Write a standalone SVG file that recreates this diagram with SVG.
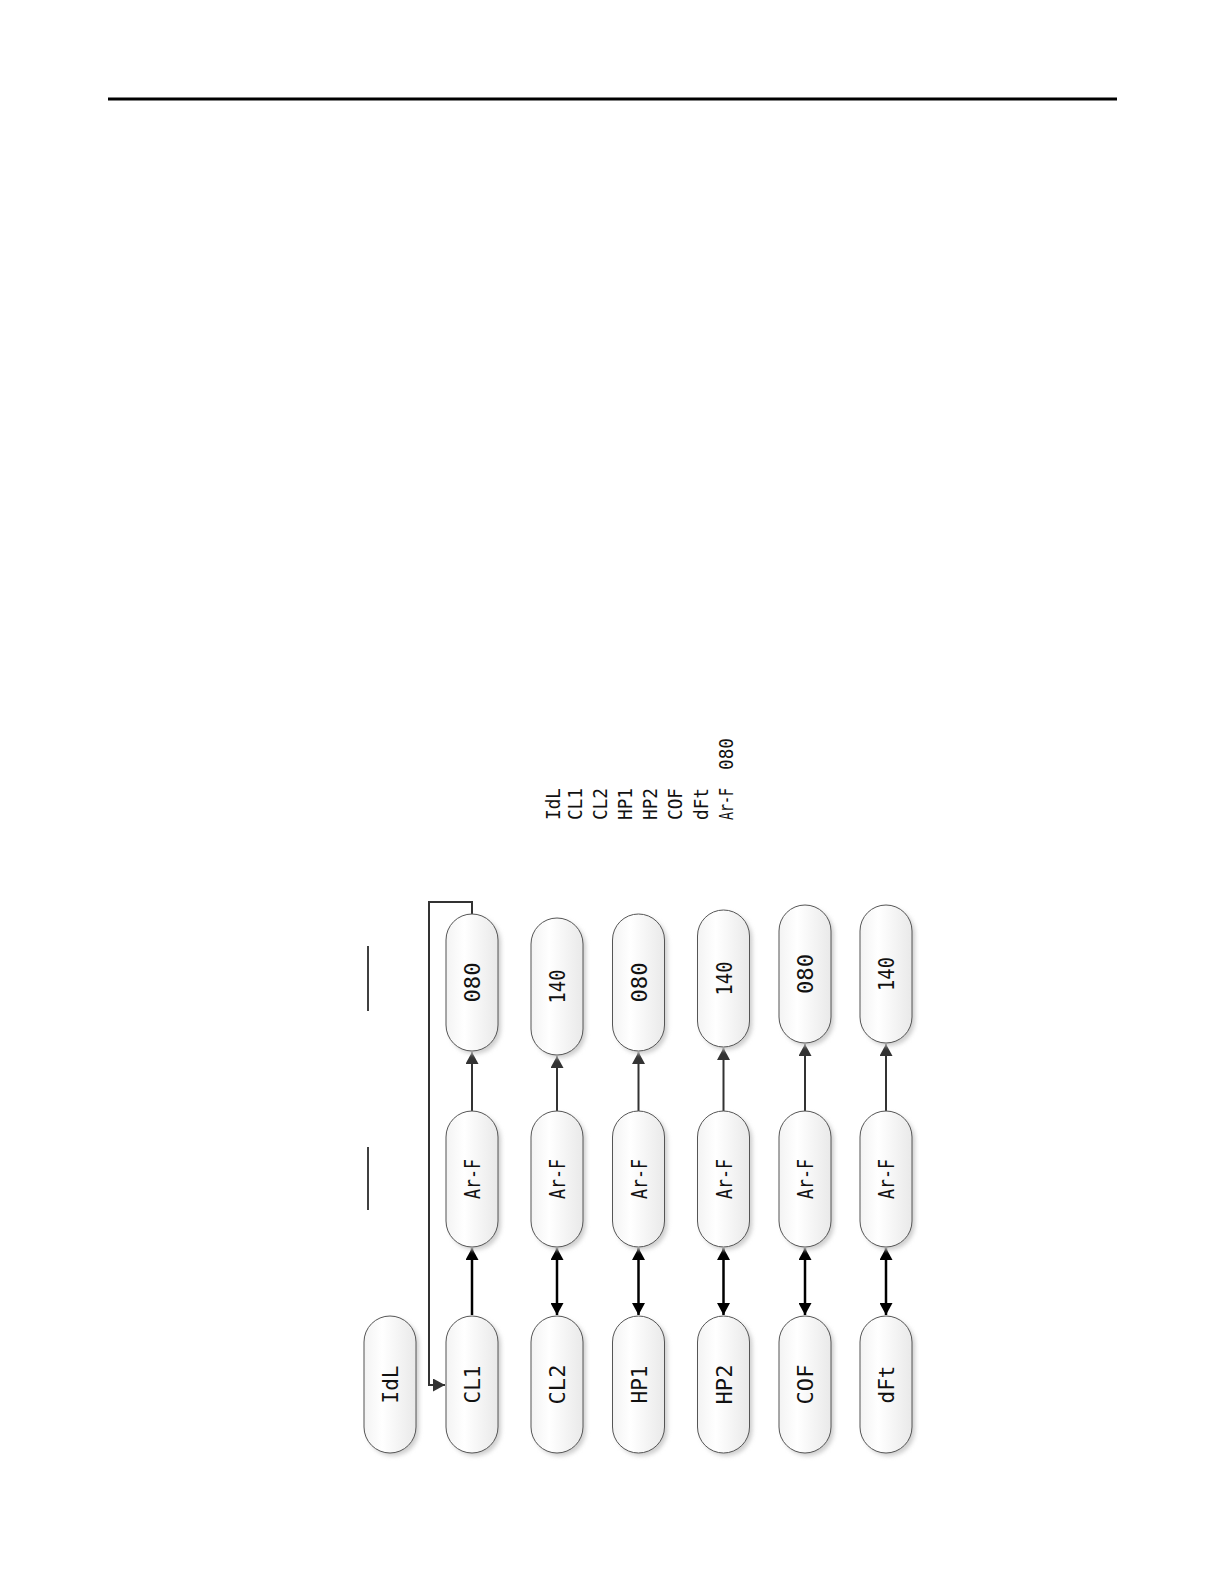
<svg xmlns="http://www.w3.org/2000/svg" width="1224" height="1584" viewBox="0 0 1224 1584">
<defs>
<style>
.node{fill:url(#g);stroke:#555;stroke-width:1}
.sh{fill:#cfcfcf;filter:url(#b)}
.lbl{font-family:"DejaVu Sans Mono","Liberation Mono",monospace;font-size:22px;fill:#111;text-anchor:middle}
.lst{font-family:"DejaVu Sans Mono","Liberation Mono",monospace;font-size:19px;fill:#111}
.c1{stroke:#000;stroke-width:2.5;fill:none}
.c2{stroke:#333;stroke-width:2;fill:none}
</style>
<linearGradient id="g" x1="0" y1="0" x2="1" y2="0">
<stop offset="0" stop-color="#f3f3f3"/>
<stop offset="0.35" stop-color="#ffffff"/>
<stop offset="1" stop-color="#e9e9e9"/>
</linearGradient>
<filter id="b" x="-20%" y="-20%" width="140%" height="140%"><feGaussianBlur stdDeviation="2"/></filter>
<marker id="ah" markerWidth="13" markerHeight="13" refX="12" refY="6.5" orient="auto-start-reverse" markerUnits="userSpaceOnUse">
<path d="M0,0 L12,6.5 L0,13 z" fill="#000"/>
</marker>
<marker id="ah2" markerWidth="13" markerHeight="13" refX="12" refY="6.5" orient="auto-start-reverse" markerUnits="userSpaceOnUse">
<path d="M0,0 L12,6.5 L0,13 z" fill="#333"/>
</marker>
</defs>
<rect width="1224" height="1584" fill="#fff"/>
<line x1="108" y1="99" x2="1117" y2="99" stroke="#000" stroke-width="3"/>
<g id="list">
<text class="lst" transform="translate(560,820) rotate(-90)" textLength="32" lengthAdjust="spacingAndGlyphs">IdL</text>
<text class="lst" transform="translate(582,820) rotate(-90)" textLength="32" lengthAdjust="spacingAndGlyphs">CL1</text>
<text class="lst" transform="translate(607,820) rotate(-90)" textLength="32" lengthAdjust="spacingAndGlyphs">CL2</text>
<text class="lst" transform="translate(632,820) rotate(-90)" textLength="32" lengthAdjust="spacingAndGlyphs">HP1</text>
<text class="lst" transform="translate(657,820) rotate(-90)" textLength="32" lengthAdjust="spacingAndGlyphs">HP2</text>
<text class="lst" transform="translate(682,820) rotate(-90)" textLength="32" lengthAdjust="spacingAndGlyphs">COF</text>
<text class="lst" transform="translate(708,820) rotate(-90)" textLength="32" lengthAdjust="spacingAndGlyphs">dFt</text>
<text class="lst" transform="translate(733,820) rotate(-90)" textLength="32" lengthAdjust="spacingAndGlyphs">Ar-F</text>
<text class="lst" transform="translate(733,770) rotate(-90)" textLength="32" lengthAdjust="spacingAndGlyphs">080</text>
</g>
<g id="marks">
<line x1="368" y1="946" x2="368" y2="1011" stroke="#000" stroke-width="1.5"/>
<line x1="368" y1="1147" x2="368" y2="1210" stroke="#000" stroke-width="1.5"/>
</g>
<g id="connectors">
<polyline class="c2" points="472,914 472,902 429,902 429,1385 445,1385" marker-end="url(#ah2)"/>
<line class="c1" x1="472" y1="1315" x2="472" y2="1248" marker-end="url(#ah)"/>
<line class="c1" x1="557" y1="1248" x2="557" y2="1315" marker-start="url(#ah)" marker-end="url(#ah)"/>
<line class="c1" x1="638.5" y1="1248" x2="638.5" y2="1315" marker-start="url(#ah)" marker-end="url(#ah)"/>
<line class="c1" x1="723.5" y1="1248" x2="723.5" y2="1315" marker-start="url(#ah)" marker-end="url(#ah)"/>
<line class="c1" x1="805" y1="1248" x2="805" y2="1315" marker-start="url(#ah)" marker-end="url(#ah)"/>
<line class="c1" x1="886" y1="1248" x2="886" y2="1315" marker-start="url(#ah)" marker-end="url(#ah)"/>
<line class="c2" x1="472" y1="1111" x2="472" y2="1052" marker-end="url(#ah2)"/>
<line class="c2" x1="557" y1="1111" x2="557" y2="1056" marker-end="url(#ah2)"/>
<line class="c2" x1="638.5" y1="1111" x2="638.5" y2="1052" marker-end="url(#ah2)"/>
<line class="c2" x1="723.5" y1="1111" x2="723.5" y2="1048" marker-end="url(#ah2)"/>
<line class="c2" x1="805" y1="1111" x2="805" y2="1044" marker-end="url(#ah2)"/>
<line class="c2" x1="886" y1="1111" x2="886" y2="1044" marker-end="url(#ah2)"/>
</g>
<g id="n-idl"><rect class="sh" x="367" y="1319" width="52" height="137" rx="26"/><rect class="node" x="364" y="1316" width="52" height="137" rx="26"/><text class="lbl" transform="translate(398,1384.5) rotate(-90)" textLength="38" lengthAdjust="spacingAndGlyphs">IdL</text></g>
<g id="n-cl1"><rect class="sh" x="449" y="1319" width="52" height="137" rx="26"/><rect class="node" x="446" y="1316" width="52" height="137" rx="26"/><text class="lbl" transform="translate(480,1384.5) rotate(-90)" textLength="38" lengthAdjust="spacingAndGlyphs">CL1</text></g>
<g id="n-arf1"><rect class="sh" x="449" y="1114" width="52" height="136" rx="26"/><rect class="node" x="446" y="1111" width="52" height="136" rx="26"/><text class="lbl" transform="translate(480,1179) rotate(-90)" textLength="40" lengthAdjust="spacingAndGlyphs">Ar-F</text></g>
<g id="n-v1"><rect class="sh" x="449" y="917" width="52" height="137" rx="26"/><rect class="node" x="446" y="914" width="52" height="137" rx="26"/><text class="lbl" transform="translate(480,982.5) rotate(-90)" textLength="40" lengthAdjust="spacingAndGlyphs">080</text></g>
<g id="n-cl2"><rect class="sh" x="534" y="1319" width="52" height="137" rx="26"/><rect class="node" x="531" y="1316" width="52" height="137" rx="26"/><text class="lbl" transform="translate(565,1384.5) rotate(-90)" textLength="40" lengthAdjust="spacingAndGlyphs">CL2</text></g>
<g id="n-arf2"><rect class="sh" x="534" y="1114" width="52" height="136" rx="26"/><rect class="node" x="531" y="1111" width="52" height="136" rx="26"/><text class="lbl" transform="translate(565,1179) rotate(-90)" textLength="40" lengthAdjust="spacingAndGlyphs">Ar-F</text></g>
<g id="n-v2"><rect class="sh" x="534" y="921" width="52" height="137" rx="26"/><rect class="node" x="531" y="918" width="52" height="137" rx="26"/><text class="lbl" transform="translate(565,986.5) rotate(-90)" textLength="34" lengthAdjust="spacingAndGlyphs">140</text></g>
<g id="n-hp1"><rect class="sh" x="615.5" y="1319" width="52" height="137" rx="26"/><rect class="node" x="612.5" y="1316" width="52" height="137" rx="26"/><text class="lbl" transform="translate(646.5,1384.5) rotate(-90)" textLength="38" lengthAdjust="spacingAndGlyphs">HP1</text></g>
<g id="n-arf3"><rect class="sh" x="615.5" y="1114" width="52" height="136" rx="26"/><rect class="node" x="612.5" y="1111" width="52" height="136" rx="26"/><text class="lbl" transform="translate(646.5,1179) rotate(-90)" textLength="40" lengthAdjust="spacingAndGlyphs">Ar-F</text></g>
<g id="n-v3"><rect class="sh" x="615.5" y="917" width="52" height="137" rx="26"/><rect class="node" x="612.5" y="914" width="52" height="137" rx="26"/><text class="lbl" transform="translate(646.5,982.5) rotate(-90)" textLength="40" lengthAdjust="spacingAndGlyphs">080</text></g>
<g id="n-hp2"><rect class="sh" x="700.5" y="1319" width="52" height="137" rx="26"/><rect class="node" x="697.5" y="1316" width="52" height="137" rx="26"/><text class="lbl" transform="translate(731.5,1384.5) rotate(-90)" textLength="40" lengthAdjust="spacingAndGlyphs">HP2</text></g>
<g id="n-arf4"><rect class="sh" x="700.5" y="1114" width="52" height="136" rx="26"/><rect class="node" x="697.5" y="1111" width="52" height="136" rx="26"/><text class="lbl" transform="translate(731.5,1179) rotate(-90)" textLength="40" lengthAdjust="spacingAndGlyphs">Ar-F</text></g>
<g id="n-v4"><rect class="sh" x="700.5" y="913" width="52" height="137" rx="26"/><rect class="node" x="697.5" y="910" width="52" height="137" rx="26"/><text class="lbl" transform="translate(731.5,978.5) rotate(-90)" textLength="34" lengthAdjust="spacingAndGlyphs">140</text></g>
<g id="n-cof"><rect class="sh" x="782" y="1319" width="52" height="137" rx="26"/><rect class="node" x="779" y="1316" width="52" height="137" rx="26"/><text class="lbl" transform="translate(813,1384.5) rotate(-90)" textLength="40" lengthAdjust="spacingAndGlyphs">COF</text></g>
<g id="n-arf5"><rect class="sh" x="782" y="1114" width="52" height="136" rx="26"/><rect class="node" x="779" y="1111" width="52" height="136" rx="26"/><text class="lbl" transform="translate(813,1179) rotate(-90)" textLength="40" lengthAdjust="spacingAndGlyphs">Ar-F</text></g>
<g id="n-v5"><rect class="sh" x="782" y="908" width="52" height="138" rx="26"/><rect class="node" x="779" y="905" width="52" height="138" rx="26"/><text class="lbl" transform="translate(813,974) rotate(-90)" textLength="40" lengthAdjust="spacingAndGlyphs">080</text></g>
<g id="n-dft"><rect class="sh" x="863" y="1319" width="52" height="137" rx="26"/><rect class="node" x="860" y="1316" width="52" height="137" rx="26"/><text class="lbl" transform="translate(894,1384.5) rotate(-90)" textLength="38" lengthAdjust="spacingAndGlyphs">dFt</text></g>
<g id="n-arf6"><rect class="sh" x="863" y="1114" width="52" height="136" rx="26"/><rect class="node" x="860" y="1111" width="52" height="136" rx="26"/><text class="lbl" transform="translate(894,1179) rotate(-90)" textLength="40" lengthAdjust="spacingAndGlyphs">Ar-F</text></g>
<g id="n-v6"><rect class="sh" x="863" y="908" width="52" height="138" rx="26"/><rect class="node" x="860" y="905" width="52" height="138" rx="26"/><text class="lbl" transform="translate(894,974) rotate(-90)" textLength="34" lengthAdjust="spacingAndGlyphs">140</text></g>
</svg>
